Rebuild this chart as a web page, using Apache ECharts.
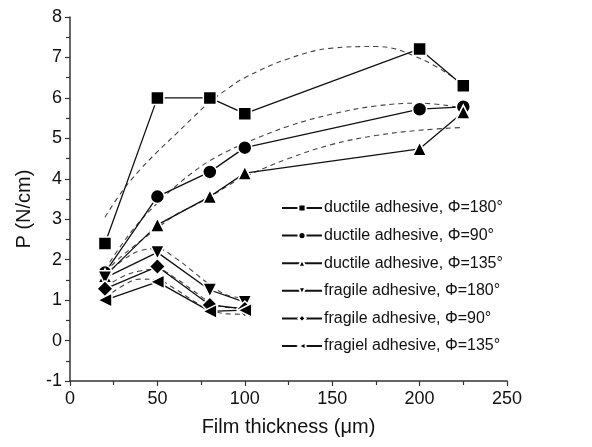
<!DOCTYPE html>
<html>
<head>
<meta charset="utf-8">
<script src="https://cdn.jsdelivr.net/npm/echarts@6/dist/echarts.min.js"></script>
<style>
  html, body { margin: 0; padding: 0; background: #fff; }
  #chart { width: 592px; height: 447px; }
</style>
</head>
<body>
<div id="chart"></div>
<script>
// measured thickness (um)
var thickness = [20, 50, 80, 100, 200, 225];
var thicknessFragile = [20, 50, 80, 100];

// peel force P (N/cm)
var ductile180 = [2.40, 6.00, 6.00, 5.61, 7.21, 6.30];
var ductile90 = [1.68, 3.56, 4.17, 4.77, 5.72, 5.78];
var ductile135 = [1.60, 2.86, 3.56, 4.14, 4.74, 5.65];
var fragile180 = [1.55, 2.18, 1.25, 0.95];
var fragile90 = [1.28, 1.83, 0.88, 0.78];
var fragiel135 = [1.00, 1.45, 0.72, 0.75];

// dashed fitted curves
var fitX = [20, 30, 40, 50, 60, 70, 80, 90, 100, 125, 150, 175, 200, 225];
var fitDuctile180 = [3.05, 3.70, 4.22, 4.67, 5.08, 5.50, 5.90, 6.22, 6.50, 6.97, 7.23, 7.27, 6.98, 6.35];
var fitDuctile90 = [1.75, 2.40, 2.95, 3.40, 3.80, 4.15, 4.45, 4.68, 4.88, 5.30, 5.60, 5.80, 5.87, 5.75];
var fitDuctile135 = [1.70, 2.10, 2.45, 2.78, 3.10, 3.32, 3.55, 3.82, 4.05, 4.50, 4.85, 5.07, 5.20, 5.27];
var fitFX = [20, 30, 40, 50, 60, 70, 80, 90, 100];
var fitFragile180 = [1.60, 1.98, 2.22, 2.27, 2.05, 1.72, 1.38, 1.12, 1.05];
var fitFragile90 = [1.32, 1.58, 1.72, 1.76, 1.55, 1.25, 0.95, 0.82, 0.80];
var fitFragiel135 = [1.05, 1.35, 1.52, 1.50, 1.28, 1.00, 0.76, 0.66, 0.65];

var names = [
    'ductile adhesive, \u03A6=180\u00B0',
    'ductile adhesive, \u03A6=90\u00B0',
    'ductile adhesive, \u03A6=135\u00B0',
    'fragile adhesive, \u03A6=180\u00B0',
    'fragile adhesive, \u03A6=90\u00B0',
    'fragiel adhesive, \u03A6=135\u00B0'
];

function pairs(xs, ys) {
    var out = [];
    for (var i = 0; i < ys.length; i++) out.push([xs[i], ys[i]]);
    return out;
}

function dataSeries(name, xs, ys, symbol, size, rotate) {
    return {
        name: name,
        type: 'line',
        data: pairs(xs, ys),
        symbol: symbol,
        symbolSize: size,
        symbolRotate: rotate || 0,
        showAllSymbol: true,
        z: 3,
        lineStyle: { color: '#111', width: 1.3 },
        itemStyle: { color: '#000', borderColor: '#fff', borderWidth: 1.5 }
    };
}

function fitSeries(xs, ys) {
    return {
        type: 'line',
        data: pairs(xs, ys),
        smooth: 0.4,
        symbol: 'none',
        silent: true,
        z: 2,
        lineStyle: { color: '#444', width: 1.1, type: [5, 4] }
    };
}

var chart = echarts.init(document.getElementById('chart'));
var option = {
    backgroundColor: '#fff',
    animation: false,
    textStyle: { fontFamily: 'Liberation Sans, Arial, sans-serif' },
    grid: { left: 70, right: 85, top: 17, bottom: 66 },
    legend: {
        data: names,
        orient: 'vertical',
        left: 276,
        top: 195,
        itemWidth: 40,
        itemHeight: 9,
        itemGap: 11.6,
        textStyle: { fontSize: 16, color: '#111', padding: [0, 0, 0, -3] }
    },
    xAxis: {
        type: 'value',
        min: 0,
        max: 250,
        interval: 50,
        name: 'Film thickness (\u03BCm)',
        nameLocation: 'middle',
        nameGap: 36,
        nameTextStyle: { fontSize: 20, color: '#111' },
        axisLine: { onZero: false, lineStyle: { color: '#333', width: 1.5 } },
        axisTick: { inside: false, length: 5, lineStyle: { color: '#333', width: 1.2 } },
        minorTick: { show: true, splitNumber: 2, length: 4, lineStyle: { color: '#333', width: 1.2 } },
        axisLabel: { fontSize: 18, color: '#111', margin: 9 },
        splitLine: { show: false }
    },
    yAxis: {
        type: 'value',
        min: -1,
        max: 8,
        interval: 1,
        name: 'P (N/cm)',
        nameLocation: 'middle',
        nameGap: 36,
        nameTextStyle: { fontSize: 20, color: '#111', padding: [0, 20, 0, 0] },
        axisLine: { show: true, onZero: false, lineStyle: { color: '#333', width: 1.5 } },
        axisTick: { show: true, inside: false, length: 5, lineStyle: { color: '#333', width: 1.2 } },
        minorTick: { show: true, splitNumber: 2, length: 4, lineStyle: { color: '#333', width: 1.2 } },
        axisLabel: { fontSize: 18, color: '#111', margin: 8 },
        splitLine: { show: false }
    },
    series: [
        fitSeries(fitX, fitDuctile180),
        fitSeries(fitX, fitDuctile90),
        fitSeries(fitX, fitDuctile135),
        fitSeries(fitFX, fitFragile180),
        fitSeries(fitFX, fitFragile90),
        fitSeries(fitFX, fitFragiel135),
        dataSeries(names[0], thickness, ductile180, 'rect', 13),
        dataSeries(names[1], thickness, ductile90, 'circle', 14),
        dataSeries(names[2], thickness, ductile135, 'triangle', 14),
        dataSeries(names[3], thicknessFragile, fragile180, 'triangle', 14, 180),
        dataSeries(names[4], thicknessFragile, fragile90, 'diamond', 16),
        dataSeries(names[5], thicknessFragile, fragiel135, 'triangle', 14, 90)
    ]
};
chart.setOption(option);
</script>
</body>
</html>
